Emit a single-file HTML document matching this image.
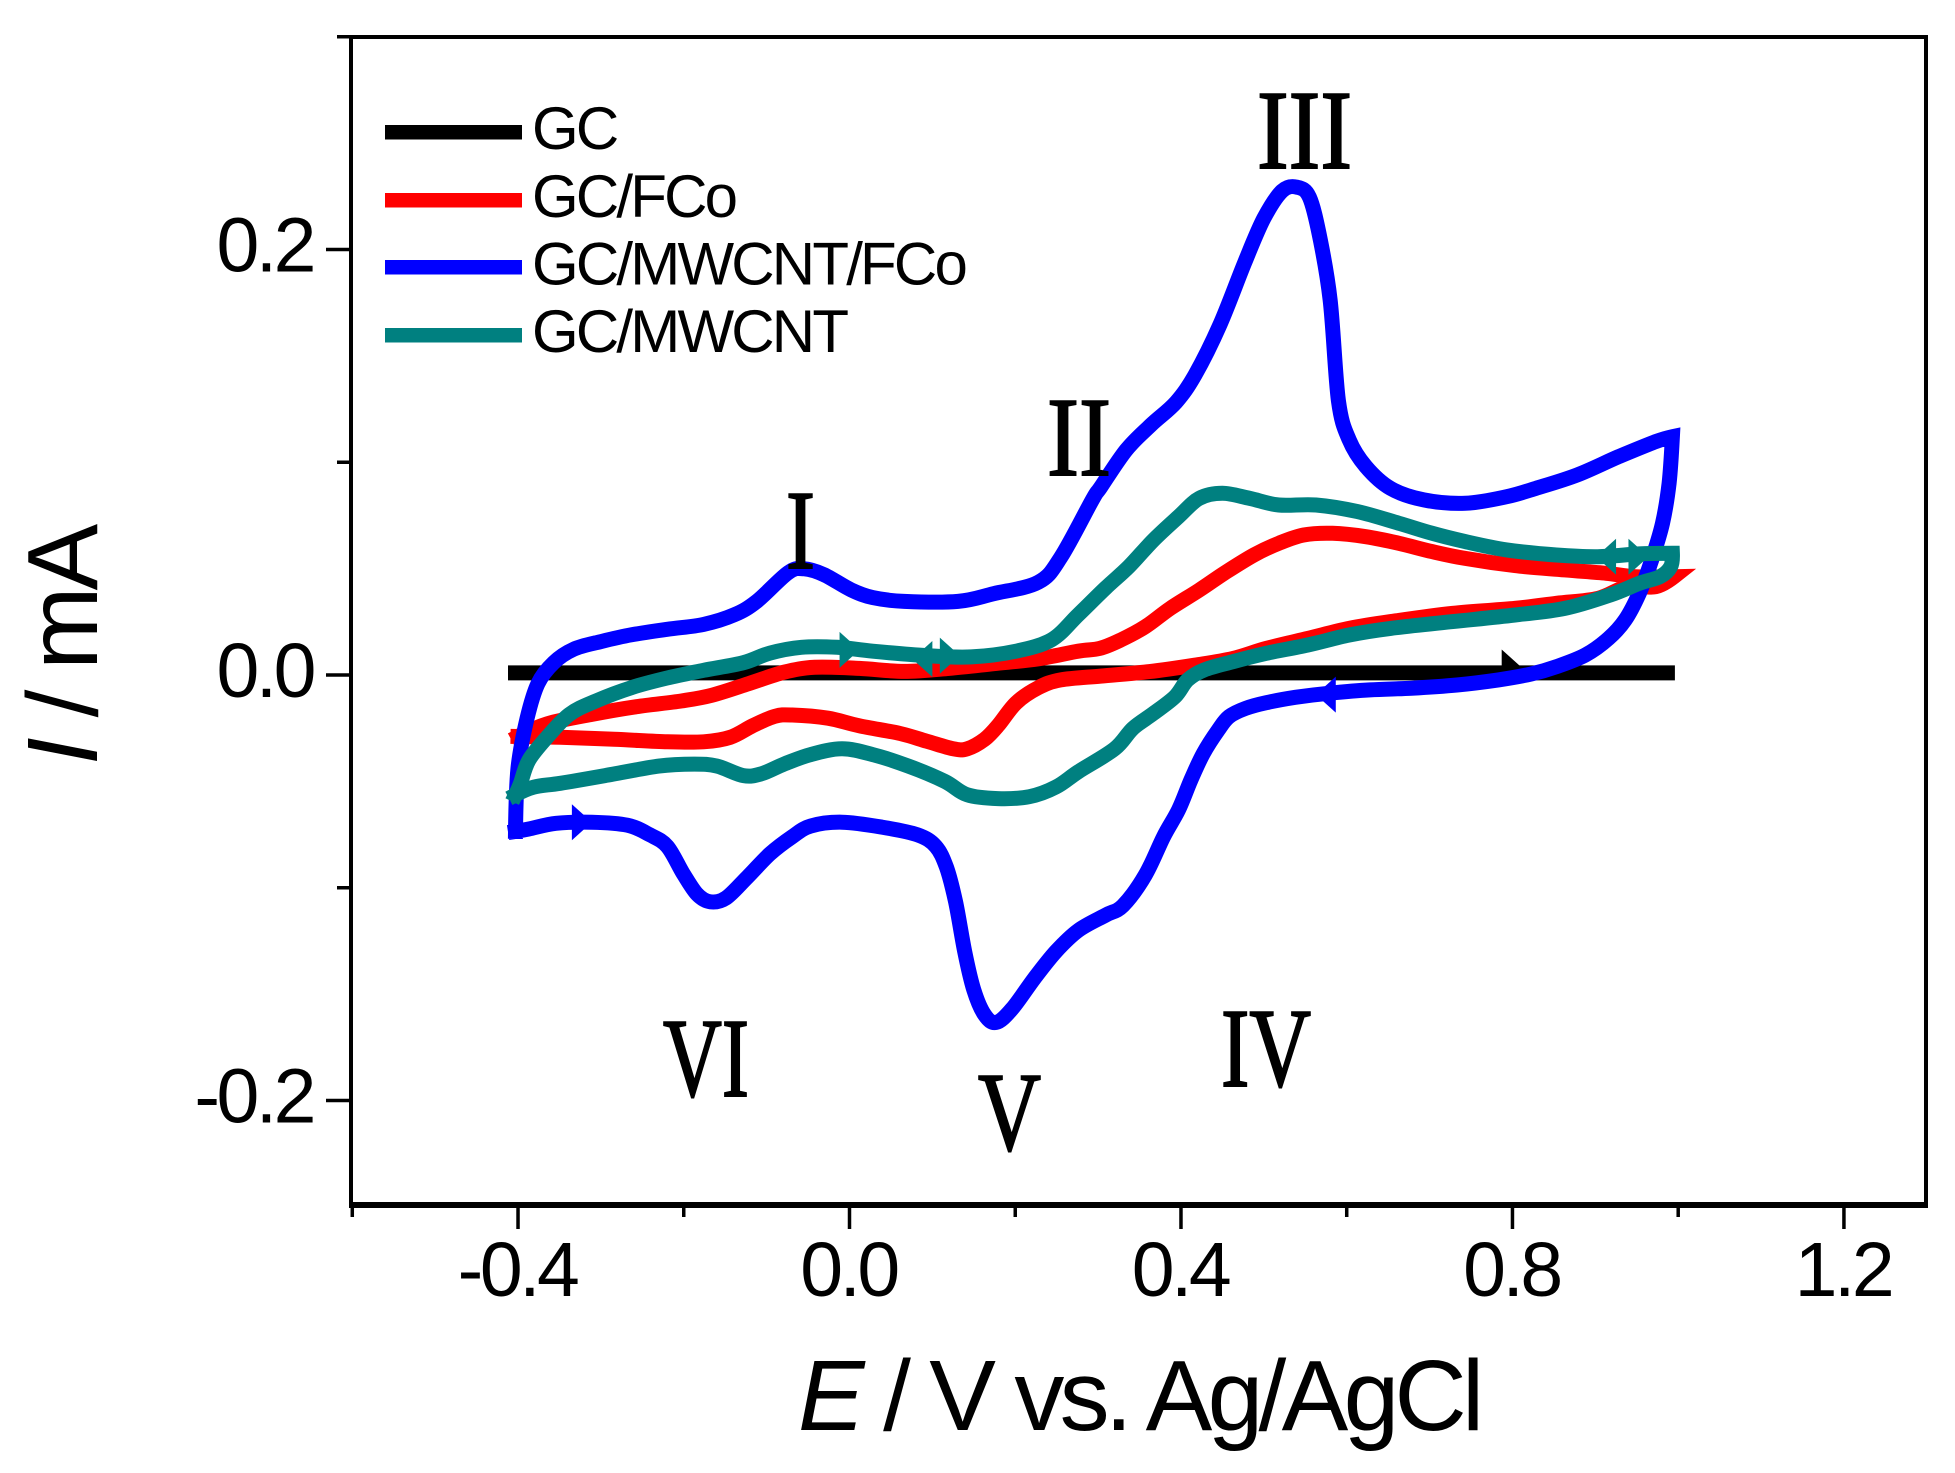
<!DOCTYPE html>
<html lang="en">
<head>
<meta charset="utf-8">
<title>Cyclic voltammograms</title>
<style>
html,body{margin:0;padding:0;background:#fff;width:1955px;height:1473px;overflow:hidden}
svg{display:block}
text{font-family:"Liberation Sans",sans-serif;fill:#000}
.num{font-family:"Liberation Serif",serif;font-size:112px;stroke:#000;stroke-width:2}
</style>
</head>
<body>
<svg id="chart" xmlns="http://www.w3.org/2000/svg" width="1955" height="1473" viewBox="0 0 1955 1473">
  <rect x="351" y="37" width="1575" height="1169" fill="none" stroke="#000" stroke-width="4"/>
  <line x1="349" x2="1928" y1="1205" y2="1205" stroke="#000" stroke-width="6"/>
  <g id="ticks"></g>
  <g id="series"></g>

  <g>
    <rect x="385" y="125" width="137" height="14.5" fill="#000"/>
    <rect x="385" y="193" width="137" height="14.5" fill="#f00"/>
    <rect x="385" y="260" width="137" height="14.5" fill="#00f"/>
    <rect x="385" y="328" width="137" height="14.5" fill="#008080"/>
    <text x="532" y="149" font-size="60" letter-spacing="-2.8">GC</text>
    <text x="532" y="217" font-size="60" letter-spacing="-2.8">GC/FCo</text>
    <text x="532" y="284.5" font-size="60" letter-spacing="-2.8">GC/MWCNT/FCo</text>
    <text x="532" y="352" font-size="60" letter-spacing="-2.8">GC/MWCNT</text>
  </g>

  <g>
    <text class="num" x="1257" y="168" textLength="95" lengthAdjust="spacingAndGlyphs">III</text>
    <text class="num" x="1047" y="475" textLength="64" lengthAdjust="spacingAndGlyphs">II</text>
    <text class="num" x="786" y="568" textLength="29" lengthAdjust="spacingAndGlyphs">I</text>
    <text class="num" x="663" y="1096" textLength="86" lengthAdjust="spacingAndGlyphs">VI</text>
    <text class="num" x="978" y="1150" textLength="63" lengthAdjust="spacingAndGlyphs">V</text>
    <text class="num" x="1221" y="1086" textLength="90" lengthAdjust="spacingAndGlyphs">IV</text>
  </g>

  <text x="798" y="1430" font-size="100" letter-spacing="-4.7"><tspan font-style="italic">E</tspan> / V vs. Ag/AgCl</text>
  <text transform="translate(97,765) rotate(-90)" font-size="100" letter-spacing="-4"><tspan font-style="italic">I</tspan> / mA</text>
</svg>
<script>
var gcE = [-0.403, -0.2, 0, 0.2, 0.4, 0.6, 0.8, 0.987];
var gcI = [0.001, 0.001, 0.001, 0.001, 0.001, 0.001, 0.001, 0.001];

var fcoE = [-0.4, -0.365, -0.311, -0.257, -0.203, -0.166, -0.122, -0.079, -0.042, 0.012, 0.066, 0.12, 0.174, 0.228, 0.276, 0.302, 0.327, 0.357, 0.387, 0.422, 0.452, 0.488, 0.518, 0.548, 0.583, 0.623, 0.663, 0.703, 0.743, 0.803, 0.863, 0.913, 0.948, 0.995, 0.973, 0.938, 0.903, 0.853, 0.803, 0.728, 0.653, 0.603, 0.553, 0.503, 0.463, 0.418, 0.362, 0.303, 0.255, 0.228, 0.201, 0.179, 0.163, 0.142, 0.125, 0.093, 0.061, 0.012, -0.026, -0.069, -0.09, -0.117, -0.144, -0.176, -0.22, -0.284, -0.349, -0.4];
var fcoI = [-0.0289, -0.023, -0.0185, -0.0149, -0.0122, -0.0095, -0.0041, 0.0013, 0.0036, 0.0031, 0.0017, 0.0031, 0.0053, 0.0076, 0.0112, 0.0125, 0.0164, 0.0227, 0.0313, 0.0399, 0.0478, 0.0564, 0.0619, 0.0658, 0.0666, 0.065, 0.0619, 0.058, 0.0548, 0.0514, 0.0494, 0.0478, 0.0462, 0.0462, 0.0415, 0.0415, 0.036, 0.0337, 0.0313, 0.029, 0.0251, 0.0219, 0.0172, 0.0125, 0.0078, 0.0047, 0.0016, -0.0005, -0.0023, -0.0059, -0.0131, -0.0239, -0.0302, -0.0347, -0.0347, -0.0311, -0.0275, -0.0239, -0.0203, -0.0188, -0.0194, -0.0239, -0.0293, -0.0314, -0.0314, -0.0302, -0.0293, -0.0289];

var mwfE = [-0.403, -0.4, -0.389, -0.376, -0.357, -0.333, -0.3, -0.263, -0.22, -0.176, -0.139, -0.112, -0.074, -0.055, -0.031, 0.002, 0.028, 0.066, 0.131, 0.174, 0.228, 0.255, 0.293, 0.303, 0.334, 0.364, 0.394, 0.417, 0.447, 0.477, 0.5, 0.522, 0.54, 0.555, 0.5675, 0.58, 0.59, 0.603, 0.623, 0.653, 0.693, 0.743, 0.793, 0.828, 0.878, 0.928, 0.973, 0.993, 0.989, 0.981, 0.968, 0.953, 0.936, 0.916, 0.888, 0.853, 0.823, 0.783, 0.733, 0.678, 0.628, 0.578, 0.538, 0.503, 0.478, 0.458, 0.445, 0.427, 0.412, 0.397, 0.379, 0.357, 0.33, 0.309, 0.276, 0.249, 0.223, 0.196, 0.177, 0.163, 0.15, 0.139, 0.128, 0.117, 0.104, 0.082, 0.039, -0.009, -0.047, -0.069, -0.096, -0.123, -0.149, -0.168, -0.184, -0.201, -0.22, -0.241, -0.268, -0.311, -0.354, -0.387, -0.403];
var mwfI = [-0.0735, -0.0437, -0.0203, -0.0041, 0.0058, 0.0121, 0.0157, 0.0189, 0.0215, 0.0238, 0.0283, 0.0346, 0.0481, 0.0499, 0.0472, 0.04, 0.0364, 0.0346, 0.0346, 0.0382, 0.0436, 0.0553, 0.0823, 0.0882, 0.1058, 0.1176, 0.1282, 0.1411, 0.1646, 0.194, 0.2146, 0.2275, 0.2293, 0.2246, 0.2058, 0.1764, 0.129, 0.1105, 0.098, 0.0877, 0.0823, 0.0807, 0.0838, 0.0877, 0.094, 0.1026, 0.1097, 0.112, 0.0901, 0.0713, 0.0541, 0.0384, 0.0259, 0.0172, 0.0094, 0.0039, 0.0005, -0.0023, -0.0047, -0.0062, -0.007, -0.0086, -0.0105, -0.013, -0.0157, -0.0196, -0.0258, -0.0368, -0.0493, -0.0634, -0.076, -0.094, -0.1084, -0.1129, -0.1201, -0.13, -0.1426, -0.157, -0.1633, -0.1597, -0.148, -0.13, -0.1066, -0.0904, -0.0805, -0.0751, -0.0715, -0.0692, -0.071, -0.076, -0.0841, -0.0949, -0.1048, -0.1066, -0.103, -0.0931, -0.0805, -0.0751, -0.0706, -0.0692, -0.0697, -0.0724, -0.0735];

var mwE = [-0.403, -0.397, -0.387, -0.365, -0.338, -0.306, -0.263, -0.22, -0.176, -0.128, -0.096, -0.058, -0.015, 0.028, 0.093, 0.147, 0.201, 0.244, 0.276, 0.309, 0.337, 0.367, 0.397, 0.422, 0.45, 0.483, 0.518, 0.563, 0.613, 0.663, 0.703, 0.743, 0.793, 0.853, 0.903, 0.953, 0.993, 0.991, 0.978, 0.953, 0.918, 0.863, 0.803, 0.728, 0.653, 0.603, 0.553, 0.503, 0.463, 0.428, 0.408, 0.393, 0.367, 0.342, 0.32, 0.276, 0.249, 0.217, 0.179, 0.142, 0.115, 0.071, 0.028, -0.009, -0.047, -0.079, -0.106, -0.128, -0.16, -0.187, -0.23, -0.295, -0.349, -0.381, -0.403];
var mwI = [-0.0563, -0.0509, -0.0401, -0.0293, -0.0185, -0.0122, -0.0059, -0.0014, 0.0022, 0.0058, 0.0103, 0.013, 0.013, 0.0112, 0.0091, 0.0085, 0.0112, 0.0166, 0.0283, 0.0409, 0.0509, 0.0635, 0.0744, 0.083, 0.0854, 0.083, 0.0799, 0.0799, 0.0768, 0.0713, 0.0666, 0.0627, 0.0588, 0.0564, 0.0556, 0.0569, 0.0572, 0.0509, 0.0462, 0.0431, 0.0376, 0.0313, 0.0282, 0.0251, 0.0219, 0.0188, 0.0141, 0.0102, 0.0063, 0.0024, -0.0023, -0.0101, -0.018, -0.0251, -0.0347, -0.0455, -0.0527, -0.0572, -0.0581, -0.0563, -0.05, -0.0428, -0.0374, -0.0347, -0.0374, -0.0419, -0.0464, -0.0473, -0.0428, -0.0419, -0.0428, -0.0473, -0.0509, -0.0527, -0.0563];

var gcArrowE = [0.787];
var gcArrowI = [0.0035];
var gcArrowDir = [1];
var mwfArrowE = [-0.335, 0.5868];
var mwfArrowI = [-0.0692, -0.0092];
var mwfArrowDir = [1, -1];
var mwArrowE = [0.109, 0.1, -0.012, 0.925, 0.94];
var mwArrowI = [0.0091, 0.0075, 0.0118, 0.0556, 0.0556];
var mwArrowDir = [1, -1, 1, -1, 1];

var xTickValues = [-0.6, -0.4, -0.2, 0, 0.2, 0.4, 0.6, 0.8, 1.0, 1.2];
var xTickLabels = ["", "-0.4", "", "0.0", "", "0.4", "", "0.8", "", "1.2"];
var yTickValues = [0.3, 0.2, 0.1, 0, -0.1, -0.2];
var yTickLabels = ["", "0.2", "", "0.0", "", "-0.2"];

var NS = "http://www.w3.org/2000/svg";
function xPos(e) { return 849.5 + 828.7 * e; }
function yPos(i) { return 675 - 2127.5 * i; }

var ticks = document.getElementById("ticks");
var seriesLayer = document.getElementById("series");

function tickLine(x1, y1, x2, y2) {
  var l = document.createElementNS(NS, "line");
  l.setAttribute("x1", x1);
  l.setAttribute("y1", y1);
  l.setAttribute("x2", x2);
  l.setAttribute("y2", y2);
  l.setAttribute("stroke", "#000");
  l.setAttribute("stroke-width", "3.5");
  return l;
}
function tickText(x, y, anchor, str) {
  var t = document.createElementNS(NS, "text");
  t.setAttribute("x", x);
  t.setAttribute("y", y);
  t.setAttribute("text-anchor", anchor);
  t.setAttribute("font-size", "77");
  t.setAttribute("letter-spacing", "-3.5");
  t.textContent = str;
  return t;
}

xTickValues.forEach(function (v, k) {
  var major = xTickLabels[k] !== "";
  var x = xPos(v);
  var l = tickLine(x, 1205, x, major ? 1229 : 1217);
  
  
  ticks.appendChild(l);
  if (major) {
    var t = tickText(x - 1, 1296, "middle", xTickLabels[k]);
    
    
    ticks.appendChild(t);
  }
});

yTickValues.forEach(function (v, k) {
  var major = yTickLabels[k] !== "";
  var y = yPos(v);
  var l = tickLine(major ? 326 : 337, y, 351, y);
  
  
  ticks.appendChild(l);
  if (major) {
    var t = tickText(313, y + 22, "end", yTickLabels[k]);
    
    
    ticks.appendChild(t);
  }
});

function isCorner(px, py, k) {
  if (k === 0 || k === px.length - 1) return true;
  var ax = px[k] - px[k - 1], ay = py[k] - py[k - 1];
  var bx = px[k + 1] - px[k], by = py[k + 1] - py[k];
  return (ax * bx + ay * by) < 0;
}

function drawCurve(es, is, color) {
  var px = es.map(xPos);
  var py = is.map(yPos);
  var d = "M" + px[0].toFixed(1) + " " + py[0].toFixed(1);
  function tangent(k) {
    if (isCorner(px, py, k)) return [0, 0];
    return [(px[k + 1] - px[k - 1]) / 6, (py[k + 1] - py[k - 1]) / 6];
  }
  for (var k = 0; k < px.length - 1; k++) {
    var t0 = tangent(k), t1 = tangent(k + 1);
    d += "C" + (px[k] + t0[0]).toFixed(1) + " " + (py[k] + t0[1]).toFixed(1) + " " +
      (px[k + 1] - t1[0]).toFixed(1) + " " + (py[k + 1] - t1[1]).toFixed(1) + " " +
      px[k + 1].toFixed(1) + " " + py[k + 1].toFixed(1);
  }
  var p = document.createElementNS(NS, "path");
  p.setAttribute("d", d);
  p.setAttribute("fill", "none");
  p.setAttribute("stroke", color);
  p.setAttribute("stroke-width", "15");
  p.setAttribute("stroke-linejoin", "miter");
  p.setAttribute("stroke-miterlimit", "5");
  p.setAttribute("stroke-linecap", "square");
  seriesLayer.appendChild(p);
  return p;
}

function drawArrow(e, i, dir, color) {
  var x = xPos(e), y = yPos(i);
  var a = document.createElementNS(NS, "polygon");
  a.setAttribute("points", x + "," + (y - 18) + " " + (x + dir * 20) + "," + y + " " + x + "," + (y + 18));
  a.setAttribute("fill", color);
  seriesLayer.appendChild(a);
  return a;
}

var c1 = drawCurve(gcE, gcI, "#000");


gcArrowE.forEach(function (e, k) {
  var a = drawArrow(e, gcArrowI[k], gcArrowDir[k], "#000");
  
  
});

var c2 = drawCurve(fcoE, fcoI, "#f00");



var c3 = drawCurve(mwfE, mwfI, "#00f");


mwfArrowE.forEach(function (e, k) {
  var a = drawArrow(e, mwfArrowI[k], mwfArrowDir[k], "#00f");
  
  
});

var c4 = drawCurve(mwE, mwI, "#008080");


mwArrowE.forEach(function (e, k) {
  var a = drawArrow(e, mwArrowI[k], mwArrowDir[k], "#008080");
  
  
});
</script>
</body>
</html>
